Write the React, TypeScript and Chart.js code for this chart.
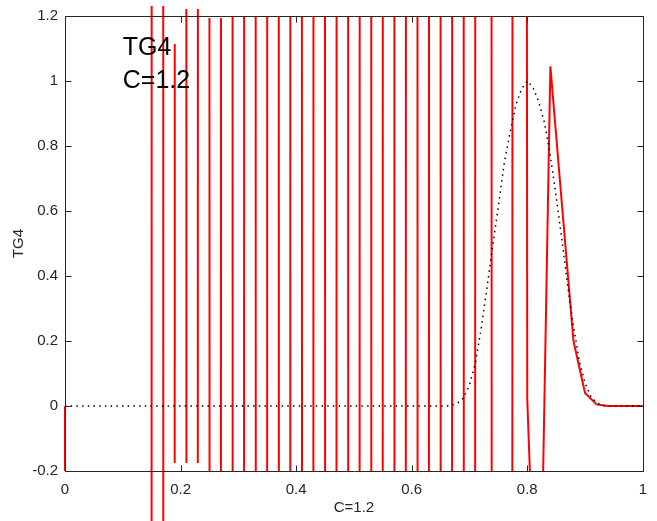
import React, { useEffect, useRef } from "react";
import { Chart, registerables } from "chart.js";

Chart.register(...registerables);

// ---------- data ----------
// grid nodes (h = 0.02)
const gridX = [
  0, 0.02, 0.04, 0.06, 0.08, 0.1, 0.12, 0.14, 0.16, 0.18, 0.2,
  0.22, 0.24, 0.26, 0.28, 0.3, 0.32, 0.34, 0.36, 0.38, 0.4,
  0.42, 0.44, 0.46, 0.48, 0.5, 0.52, 0.54, 0.56, 0.58, 0.6,
  0.62, 0.64, 0.66, 0.68, 0.7, 0.72, 0.74, 0.76, 0.78, 0.8,
  0.82, 0.84, 0.86, 0.88, 0.9, 0.92, 0.94, 0.96, 0.98, 1,
];

// numerical solution TG4 (unstable, C = 1.2); null = not drawn (overflow)
const numericalU: (number | null)[] = [
  0, -1e15, null, null, null, null, null, -3.913e13, 2.061e13, -9.043e12, 4.454e12,
  -2.048e12, 1.055e12, -5.078e11, 2.335e11, -1.049e11, 5.051e10, -2.377e10, 1.068e10, -4.577e9, 1.915e9,
  -8.605e8, 4.238e8, -1.731e8, 7.96e7, -3.493e7, 1.427e7, -5.687e6, 2.157e6, -7.778e5, 2.733e5,
  -88670, 27240, -8136, 2295, -610, 103.5, -9, -98, 40, 0.02,
  -0.95, 1.045, 0.62, 0.2, 0.04, 0.005, 0, 0, 0, 0,
];

// exact solution (dotted)
const exactX = [
  0, 0.66, 0.67, 0.68, 0.69, 0.7, 0.71, 0.72, 0.73, 0.74, 0.75,
  0.76, 0.77, 0.78, 0.79, 0.8, 0.81, 0.82, 0.83, 0.84, 0.85,
  0.86, 0.87, 0.88, 0.89, 0.9, 0.91, 0.92, 0.93, 0.94, 1,
];
const exactU = [
  0, 0, 0.002, 0.01, 0.025, 0.065, 0.13, 0.235, 0.36, 0.49, 0.615,
  0.745, 0.84, 0.925, 0.975, 1.0, 0.98, 0.935, 0.87, 0.77, 0.645,
  0.51, 0.37, 0.245, 0.14, 0.07, 0.03, 0.01, 0.002, 0, 0,
];

const xTicks = [0, 0.2, 0.4, 0.6, 0.8, 1];
const yTicks = [-0.2, 0, 0.2, 0.4, 0.6, 0.8, 1, 1.2];
const xTitle = "C=1.2";
const yTitle = "TG4";
const noteTexts = ["TG4", "C=1.2"];
const noteX = [0.1, 0.1];
const noteY = [1.1, 1.0];

// ---------- styles ----------
const FONT = '"Liberation Sans", Arial, Helvetica, sans-serif';
const AXIS_COLOR = "#262626";

// pieces of the red curve (index ranges) with their clipping margins (px)
const redPieces = [
  { from: 0, to: 1, clip: { left: 1, right: 0, top: 0, bottom: 0 } },
  { from: 7, to: 9, clip: { left: 0, right: 0, top: 10, bottom: 60 } },
  { from: 9, to: 10, clip: { left: 0, right: 0, top: -28, bottom: -8 } },
  { from: 10, to: 12, clip: { left: 0, right: 0, top: 7, bottom: -8 } },
  { from: 12, to: 14, clip: { left: 0, right: 0, top: -2, bottom: 0 } },
  { from: 14, to: 50, clip: { left: 0, right: 0, top: 0, bottom: 0 } },
];

const framePlugin = {
  id: "frame",
  afterDatasetsDraw(chart: any) {
    const { ctx, chartArea: a, scales } = chart;
    const L = Math.round(a.left) + 0.5;
    const R = Math.round(a.right) + 0.5;
    const T = Math.round(a.top) + 0.5;
    const B = Math.round(a.bottom) + 0.5;
    ctx.save();
    ctx.strokeStyle = AXIS_COLOR;
    ctx.lineWidth = 1;
    ctx.beginPath();
    ctx.rect(L, T, R - L, B - T);
    const tl = 6;
    xTicks.forEach((v) => {
      const p = Math.round(scales.x.getPixelForValue(v)) + 0.5;
      ctx.moveTo(p, B);
      ctx.lineTo(p, B - tl);
      ctx.moveTo(p, T);
      ctx.lineTo(p, T + tl);
    });
    yTicks.forEach((v) => {
      const p = Math.round(scales.y.getPixelForValue(v)) + 0.5;
      ctx.moveTo(L, p);
      ctx.lineTo(L + tl, p);
      ctx.moveTo(R, p);
      ctx.lineTo(R - tl, p);
    });
    ctx.stroke();

    ctx.fillStyle = "#000000";
    ctx.font = `25px ${FONT}`;
    ctx.textAlign = "left";
    ctx.textBaseline = "middle";
    noteTexts.forEach((t, i) => {
      ctx.fillText(t, scales.x.getPixelForValue(noteX[i]), scales.y.getPixelForValue(noteY[i]));
    });
    ctx.restore();
  },
};

export default function App() {
  const ref = useRef<HTMLCanvasElement | null>(null);

  useEffect(() => {
    document.body.style.margin = "0";
    const canvas = ref.current;
    if (!canvas) return;

    const exactData = exactX.map((x, i) => ({ x, y: exactU[i] }));
    const redDatasets = redPieces.map((p) => {
      const pts: { x: number; y: number }[] = [];
      for (let i = p.from; i <= p.to; i++) {
        const y = numericalU[i];
        if (y !== null) pts.push({ x: gridX[i], y });
      }
      return {
        data: pts,
        borderColor: "#ff0000",
        borderWidth: 2,
        pointRadius: 0,
        showLine: true,
        fill: false,
        tension: 0,
        clip: p.clip,
      };
    });

    const chart = new Chart(canvas, {
      type: "scatter",
      data: {
        datasets: [
          {
            data: exactData,
            borderColor: "#000000",
            borderWidth: 1.5,
            borderDash: [1.5, 4.2],
            pointRadius: 0,
            showLine: true,
            fill: false,
            tension: 0,
          } as any,
          ...redDatasets,
        ],
      },
      options: {
        animation: false,
        responsive: false,
        devicePixelRatio: 1,
        layout: { padding: { top: 15, right: 14, left: 0, bottom: 0 } },
        plugins: {
          legend: { display: false },
          tooltip: { enabled: false },
        },
        scales: {
          x: {
            type: "linear",
            min: 0,
            max: 1,
            grid: { display: false, drawTicks: false },
            border: { display: false },
            afterBuildTicks: (axis: any) => {
              axis.ticks = xTicks.map((v) => ({ value: v }));
            },
            afterFit: (axis: any) => {
              axis.height = 50;
            },
            ticks: {
              padding: 10,
              color: AXIS_COLOR,
              font: { family: FONT, size: 15 },
              maxRotation: 0,
              callback: (v: any) => String(v),
            },
            title: {
              display: true,
              text: xTitle,
              color: AXIS_COLOR,
              font: { family: FONT, size: 15 },
              padding: { top: 0, bottom: 4 },
            },
          },
          y: {
            type: "linear",
            min: -0.2,
            max: 1.2,
            grid: { display: false, drawTicks: false },
            border: { display: false },
            afterBuildTicks: (axis: any) => {
              axis.ticks = yTicks.map((v) => ({ value: v }));
            },
            afterFit: (axis: any) => {
              axis.width = 65;
            },
            ticks: {
              padding: 7,
              color: AXIS_COLOR,
              font: { family: FONT, size: 15 },
              callback: (v: any) => String(v),
            },
            title: {
              display: true,
              text: yTitle,
              color: AXIS_COLOR,
              font: { family: FONT, size: 15 },
              padding: { top: 10, bottom: 0 },
            },
          },
        },
      },
      plugins: [framePlugin],
    });

    return () => chart.destroy();
  }, []);

  return (
    <div style={{ width: 657, height: 521, position: "relative" }}>
      <canvas ref={ref} width={657} height={521} style={{ display: "block" }} />
    </div>
  );
}
